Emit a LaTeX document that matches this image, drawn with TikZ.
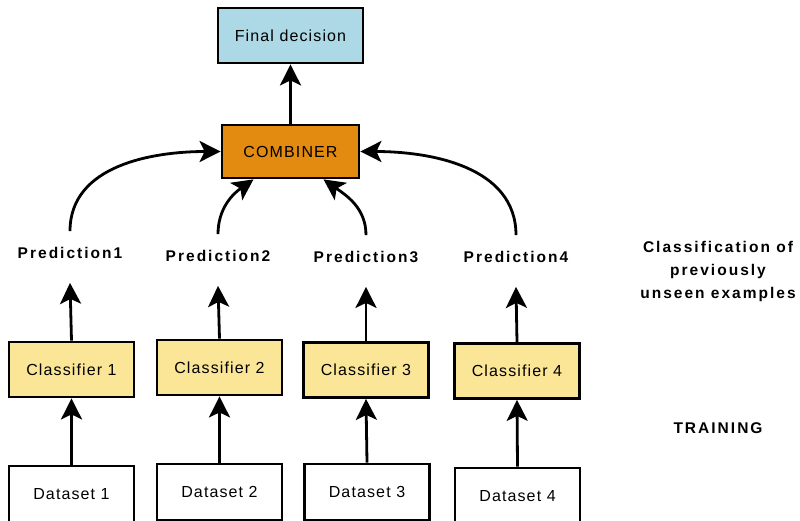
\documentclass[tikz,border=0pt]{standalone}
\usepackage{fontspec}
\setmainfont{Liberation Sans}
\usetikzlibrary{arrows.meta}
\definecolor{finalblue}{RGB}{173,216,230}
\definecolor{combor}{RGB}{227,138,16}
\definecolor{clsyel}{RGB}{250,230,150}
\tikzset{
  box/.style={draw=black, line width=2.8pt, minimum width=125pt, minimum height=55pt, inner sep=0pt,
    font=\fontsize{16}{19}\selectfont\addfontfeatures{LetterSpace=7}},
  predlbl/.style={font=\fontsize{15.5}{18}\selectfont\bfseries\addfontfeatures{LetterSpace=13}, inner sep=0pt},
  arr/.style={line width=2.8pt, -{Stealth[length=21pt, width=21pt, inset=5pt]}},
}
\begin{document}
\begin{tikzpicture}[x=1pt, y=-1pt]
\useasboundingbox (0,0) rectangle (800,521);
\node[box, fill=finalblue, minimum width=145pt] (final) at (290.5,35.5) {Final decision};
\node[box, fill=combor, minimum width=137pt, minimum height=53pt] (comb) at (290.5,151.5) {COMBINER};

\node[box, fill=clsyel] (c1) at (71.5,369.5) {Classifier 1};
\node[box, fill=clsyel] (c2) at (219.5,367.5) {Classifier 2};
\node[box, fill=clsyel] (c3) at (366,370) {Classifier 3};
\node[box, fill=clsyel] (c4) at (517,371) {Classifier 4};

\node[box, fill=white, minimum height=56pt] (d1) at (71.5,494) {Dataset 1};
\node[box, fill=white, minimum height=56pt] (d2) at (219.5,492) {Dataset 2};
\node[box, fill=white, minimum height=56pt] (d3) at (367,492) {Dataset 3};
\node[box, fill=white, minimum height=56pt] (d4) at (517.5,496) {Dataset 4};

\node[predlbl] (p1) at (70,253) {Prediction1};
\node[predlbl] (p2) at (218,256) {Prediction2};
\node[predlbl] (p3) at (366,257) {Prediction3};
\node[predlbl] (p4) at (516,257) {Prediction4};

\node[predlbl, align=center, font=\fontsize{15.5}{23}\selectfont\bfseries\addfontfeatures{LetterSpace=13}] (cls) at (718,271) {Classification of\\previously\\unseen examples};
\node[predlbl] (train) at (718,428) {TRAINING};

\draw[arr] (comb.north) -- (final.south);

\foreach \i in {1,2,3,4} {
  \draw[arr] (d\i.north) -- (c\i.south);
  \draw[arr] (c\i.north) -- ([yshift=-24pt]p\i.south);
}

\draw[arr] ([yshift=16pt]p1.north) to[out=90, in=180] (comb.west);
\draw[arr] ([yshift=16pt]p4.north) to[out=90, in=0] (comb.east);
\draw[arr] ([yshift=16pt]p2.north) to[out=90, in=215] ([xshift=-37pt]comb.south);
\draw[arr] ([yshift=16pt]p3.north) to[out=90, in=-35] ([xshift=33pt]comb.south);
\end{tikzpicture}
\end{document}
